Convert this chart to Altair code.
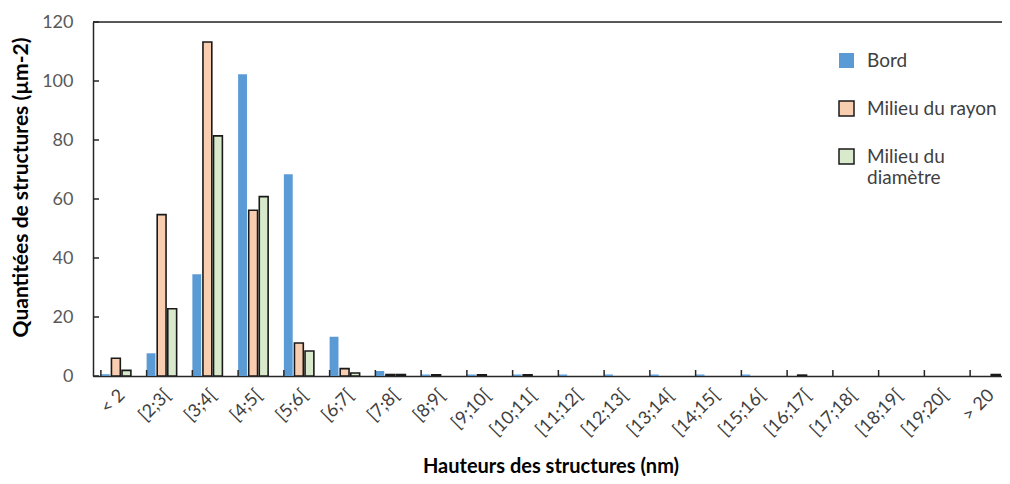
import altair as alt
import pandas as pd

categories = ["< 2", "[2;3[", "[3;4[", "[4;5[", "[5;6[", "[6;7[", "[7;8[", "[8;9[",
              "[9;10[", "[10;11[", "[11;12[", "[12;13[", "[13;14[", "[14;15[",
              "[15;16[", "[16;17[", "[17;18[", "[18;19[", "[19;20[", "> 20"]
series_names = ["Bord", "Milieu du rayon", "Milieu du diamètre"]
bord = [0.6, 7.7, 34.5, 102.3, 68.4, 13.3, 1.7, 0.5, 0.5, 0.5, 0.5, 0.5, 0.5, 0.5, 0.5, 0, 0, 0, 0, 0]
rayon = [6.0, 54.7, 113.2, 56.2, 11.2, 2.5, 0.5, 0.4, 0.4, 0.4, 0, 0, 0, 0, 0, 0.3, 0, 0, 0, 0]
diametre = [1.9, 22.8, 81.4, 60.8, 8.5, 1.0, 0.5, 0, 0, 0, 0, 0, 0, 0, 0, 0, 0, 0, 0, 0.5]
y_ticks = [0, 20, 40, 60, 80, 100, 120]

rows = []
for s, vals in zip(series_names, [bord, rayon, diametre]):
    for c, v in zip(categories, vals):
        rows.append({"cat": c, "series": s, "value": v})
df = pd.DataFrame(rows)

FONT = "Lato"
AX = "#262626"
xscale = alt.Scale(domain=categories, range=[0, 915], paddingInner=0.344, paddingOuter=0.172)
xaxis = alt.Axis(title="Hauteurs des structures (nm)", labelAngle=-45, ticks=False,
                 labelFontSize=18, labelColor="#404040", labelPadding=10,
                 titleFontSize=20, titleFontWeight="bold", titleColor="#000000",
                 titlePadding=17, domainColor=AX, domainWidth=1.5, labelFont=FONT,
                 titleFont=FONT, labelBound=False)
yscale = alt.Scale(domain=[0, 120], nice=False)
yaxis = alt.Axis(title="Quantitées de structures (µm-2)", values=y_ticks, ticks=False,
                 labelFontSize=18, labelColor="#595959", labelPadding=20,
                 titleFontSize=21, titleFontWeight="bold", titleColor="#000000",
                 titlePadding=10, titleY=165, domainColor=AX, domainWidth=1.5, grid=False,
                 labelFont=FONT, titleFont=FONT)

legend = alt.Legend(title=None, orient="none", legendX=744, legendY=29,
                    symbolType="square", symbolSize=225, symbolStrokeWidth=1.5,
                    labelFontSize=19, labelColor="#404040", labelFont=FONT,
                    rowPadding=27, labelOffset=11,
                    labelExpr="datum.label == 'Milieu du diamètre' ? ['Milieu du', 'diamètre'] : datum.label")

bars = alt.Chart(df).transform_filter("datum.value > 0").mark_bar(strokeWidth=1.6, clip=True).encode(
    x=alt.X("cat:N", scale=xscale, axis=xaxis, sort=categories),
    xOffset=alt.XOffset("series:N", sort=series_names,
                        scale=alt.Scale(domain=series_names, paddingInner=0.163, paddingOuter=0)),
    y=alt.Y("value:Q", scale=yscale, axis=yaxis),
    fill=alt.Fill("series:N", sort=series_names,
                  scale=alt.Scale(domain=series_names, range=["#5b9bd5", "#f9cdb0", "#d8eacb"]),
                  legend=legend),
    stroke=alt.Stroke("series:N", sort=series_names,
                      scale=alt.Scale(domain=series_names, range=["transparent", "#1a1a1a", "#1a1a1a"]),
                      legend=legend),
)

xt = pd.DataFrame({"cat": categories})
xticks = alt.Chart(xt).mark_rule(color=AX, strokeWidth=1.5).encode(
    x=alt.X("cat:N", scale=xscale, axis=xaxis, sort=categories, bandPosition=0),
    y=alt.value(354), y2=alt.value(348),
)

yt = pd.DataFrame({"value": y_ticks})
yticks = alt.Chart(yt).mark_rule(color=AX, strokeWidth=1.5).encode(
    y=alt.Y("value:Q", scale=yscale, axis=yaxis),
    x=alt.value(0), x2=alt.value(6),
)

topline = alt.Chart(pd.DataFrame({"value": [120]})).mark_rule(color=AX, strokeWidth=1.5).encode(
    y=alt.Y("value:Q", scale=yscale, axis=yaxis),
    x=alt.value(0), x2=alt.value(930),
)

chart = alt.layer(bars, xticks, yticks, topline).properties(
    width=909, height=354,
    autosize=alt.AutoSizeParams(type="none"),
    padding={"left": 85, "top": 14, "right": 0, "bottom": 100},
).configure_view(strokeWidth=0).configure(font=FONT, background="white")

chart.save("out.html", embed_options={"renderer": "svg", "actions": False})
